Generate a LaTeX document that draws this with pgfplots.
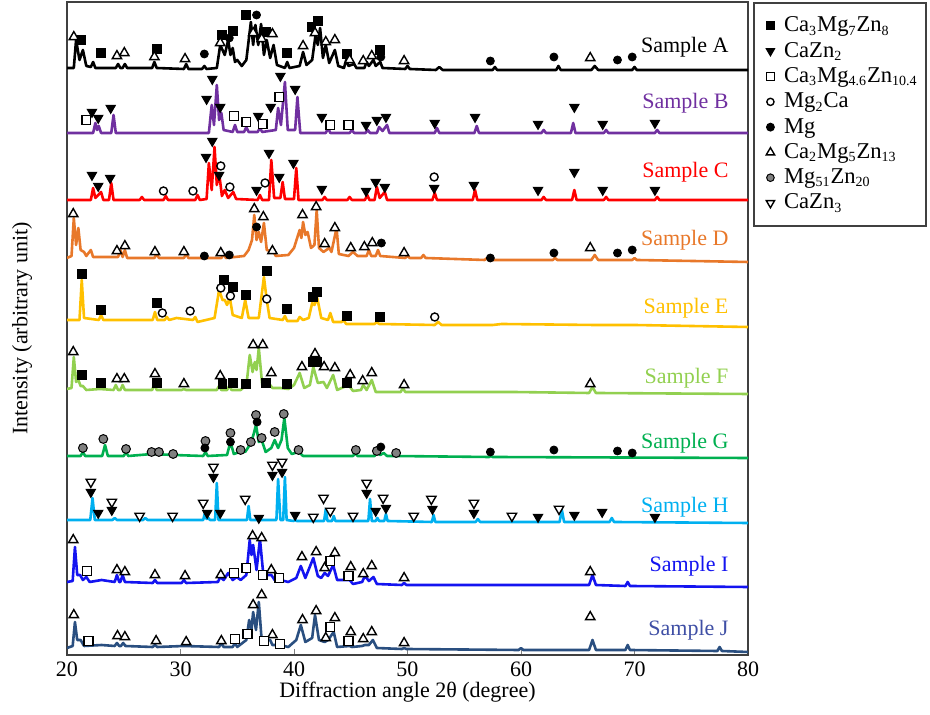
\documentclass[border=0pt]{standalone}
\usepackage{fontspec}
\setmainfont{Liberation Serif}
\usepackage{pgfplots}
\pgfplotsset{compat=1.18}
\newcommand{\sub}[1]{\textsubscript{\fontsize{7pt}{7pt}\selectfont #1}}
\definecolor{cB}{HTML}{7030A0}
\definecolor{cC}{HTML}{FF0000}
\definecolor{cD}{HTML}{E8782A}
\definecolor{cE}{HTML}{FFC000}
\definecolor{cF}{HTML}{92D050}
\definecolor{cG}{HTML}{00B050}
\definecolor{cH}{HTML}{00B0F0}
\definecolor{cI}{HTML}{1414F0}
\definecolor{cJ}{HTML}{2A4F80}
\definecolor{cJl}{HTML}{3F4FA5}
\pgfplotsset{
 sqf/.style={only marks, mark=square*, mark size=2.2pt, mark options={fill=black, draw=black, line width=0.5pt}},
 tdf/.style={only marks, mark=triangle*, mark size=2.7pt, mark options={rotate=180, fill=black, draw=black, line width=0.5pt}},
 sqo/.style={only marks, mark=square*, mark size=2.2pt, mark options={fill=white, draw=black, line width=0.7pt}},
 cio/.style={only marks, mark=*, mark size=2pt, mark options={fill=white, draw=black, line width=0.7pt}},
 cif/.style={only marks, mark=*, mark size=2pt, mark options={fill=black, draw=black}},
 tuo/.style={only marks, mark=triangle*, mark size=2.7pt, mark options={fill=white, draw=black, line width=0.7pt}},
 cig/.style={only marks, mark=*, mark size=2.2pt, mark options={fill=gray, draw=black, line width=0.5pt}},
 tdo/.style={only marks, mark=triangle*, mark size=2.7pt, mark options={rotate=180, fill=white, draw=black, line width=0.7pt}},
 xrd/.style={no marks, line width=1.3pt, line join=round, forget plot},
 limg/.style={legend image code/.code={\path[draw=none, fill=none] (0cm,-0.1cm) rectangle (0.39cm,0.1cm); \draw[##1, only marks] plot coordinates {(0.22cm,0cm)};}},
}
\begin{document}
\begin{tikzpicture}[font=\fontsize{11pt}{13pt}\selectfont]
\begin{axis}[name=ax,
 scale only axis, width=340.5pt, height=326.5pt,
 xmin=20, xmax=80, ymin=-655, ymax=-2,
 y filter/.expression={-y},
 xtick={20,30,...,80}, ytick=\empty,
 tick align=inside, xtick pos=bottom, major tick length=3pt,
 axis line style={black!75, line width=0.8pt},
 /pgf/number format/assume math mode=true,
 xlabel={Diffraction angle 2θ (degree)},
 ylabel={Intensity (arbitrary unit)},
 xlabel style={at={(axis description cs:0.5,-0.0567)}, anchor=center},
 ylabel style={at={(axis description cs:-0.066,0.5)}, anchor=center},
 legend style={at={(1.0075,1)}, anchor=north west, draw=black!75, line width=0.8pt, row sep=-0.3pt, inner xsep=2pt, inner ysep=5pt, nodes={inner xsep=2pt}, font=\fontsize{11.3pt}{13pt}\selectfont},
 legend cell align=left,
]
\addlegendimage{sqf, mark size=1.9pt, limg}\addlegendentry{Ca\sub{3}Mg\sub{7}Zn\sub{8}}
\addlegendimage{tdf, mark size=2.4pt, limg}\addlegendentry{CaZn\sub{2}}
\addlegendimage{sqo, mark size=1.9pt, limg}\addlegendentry{Ca\sub{3}Mg\sub{4.6}Zn\sub{10.4}}
\addlegendimage{cio, mark size=1.8pt, limg}\addlegendentry{Mg\sub{2}Ca}
\addlegendimage{cif, mark size=1.8pt, limg}\addlegendentry{Mg}
\addlegendimage{tuo, mark size=2.4pt, limg}\addlegendentry{Ca\sub{2}Mg\sub{5}Zn\sub{13}}
\addlegendimage{cig, mark size=1.9pt, limg}\addlegendentry{Mg\sub{51}Zn\sub{20}}
\addlegendimage{tdo, mark size=2.4pt, limg}\addlegendentry{CaZn\sub{3}}

% ---------- Sample A ----------
\addplot[xrd, black] coordinates {(20,68) (20.6,68) (20.8,40) (21.1,60) (21.4,50) (21.7,66) (22.1,67) (22.3,62) (22.5,68) (24.3,68) (24.5,64) (24.7,68) (24.9,68) (25.1,64) (25.3,68) (27.5,68) (27.7,62) (27.9,68) (30.3,69) (30.5,64) (30.7,69) (31.9,69) (32.1,66) (32.3,69) (33.2,68) (33.5,45) (33.9,55) (34.2,40) (34.4,55) (34.6,48) (34.8,62) (35.0,60) (35.4,66) (35.8,60) (36.2,22) (36.4,45) (36.6,25) (36.85,45) (37.1,24) (37.35,55) (37.6,40) (37.9,58) (38.2,45) (38.5,65) (39.2,68) (39.4,62) (39.6,68) (40.5,66) (40.8,52) (41.1,65) (41.6,60) (41.9,35) (42.1,45) (42.3,28) (42.55,58) (42.8,45) (43.1,63) (43.6,50) (43.9,66) (44.4,68) (44.6,60) (44.8,66) (45.3,64) (45.5,68) (46.2,68) (46.4,62) (46.6,66) (47.0,60) (47.2,66) (47.6,62) (47.8,68) (49.8,69) (50,66) (50.2,69) (52.5,70) (52.8,67) (53.1,70) (57.5,70) (57.7,67) (57.9,70) (63.1,70) (63.3,66) (63.5,70) (66.2,70) (66.5,66) (66.8,70) (69.8,70) (70,67) (70.2,70) (80,70)};
\addplot[sqf, forget plot] coordinates {(21.2,40) (23.0,53) (27.9,49) (33.65,35) (34.6,31) (35.8,15) (37.5,32) (39.35,53) (41.55,27) (42.1,21) (44.65,54) (47.6,50)};
\addplot[tuo, forget plot] coordinates {(20.6,37) (24.4,56) (25.05,53) (27.7,57) (30.4,59) (33.5,43) (36.4,33) (37.15,39) (38.1,34) (40.8,46) (41.85,33) (42.8,42) (43.6,40) (44.9,60) (46.1,61) (46.85,56) (49.7,61) (66.1,58)};
\addplot[cif, forget plot] coordinates {(32.1,54) (34.3,38) (36.7,15) (47.65,57) (57.3,61) (62.9,57) (68.5,60) (69.8,57)};

% ---------- Sample B ----------
\addplot[xrd, cB] coordinates {(20,133) (22.3,133) (22.5,123) (22.65,130) (22.8,126) (23.0,133) (23.9,133) (24.1,115) (24.3,133) (32.5,133) (32.75,105) (32.95,125) (33.2,85) (33.4,120) (33.6,113) (33.8,130) (34.6,132) (34.8,125) (35.0,132) (35.6,132) (35.8,127) (36.0,132) (36.8,132) (37.0,128) (37.2,132) (38.4,130) (38.6,108) (38.85,125) (39.2,82) (39.45,130) (40.1,130) (40.3,97) (40.55,133) (42.8,133) (43,128) (43.2,133) (44.9,133) (45.1,130) (45.3,133) (46.3,133) (46.5,130) (46.7,133) (47.3,133) (47.5,127) (47.8,131) (48.2,125) (48.4,133) (52.4,133) (52.6,128) (52.8,133) (55.9,133) (56.1,126) (56.3,133) (61.8,133) (62,130) (62.2,133) (64.4,133) (64.6,123) (64.8,133) (67.3,133) (67.5,130) (67.7,133) (71.8,133) (72,130) (72.2,133) (80,133)};
\addplot[tdf, forget plot] coordinates {(22.2,112) (22.75,118) (23.85,108) (32.3,99) (32.8,79) (33.5,107) (36.85,116) (37.95,107) (38.8,76) (40.1,89) (42.45,117) (46.35,125) (47.3,120) (48.1,117) (52.4,123) (55.95,117) (61.5,124) (64.7,107) (67.2,124) (71.8,123)};
\addplot[sqo, forget plot] coordinates {(21.7,120) (34.7,116) (35.8,122) (37.25,124) (38.7,97) (43.2,125) (44.8,125)};

% ---------- Sample C ----------
\addplot[xrd, cC] coordinates {(20,200) (22.1,200) (22.3,188) (22.5,198) (23.0,192) (23.2,200) (23.7,200) (23.9,183) (24.1,200) (26.4,200) (26.6,197) (26.8,200) (28.5,200) (28.7,196) (28.9,200) (31.3,200) (31.5,195) (31.7,200) (32.3,199) (32.5,163) (32.75,190) (33.0,147) (33.2,185) (33.4,173) (33.65,196) (33.9,190) (34.2,198) (34.65,192) (34.9,199) (36.8,200) (37.0,195) (37.2,200) (37.8,200) (38.0,160) (38.25,198) (38.8,198) (39.0,182) (39.2,199) (40.0,199) (40.2,168) (40.4,200) (42.5,200) (42.7,197) (42.9,200) (44.7,200) (44.9,197) (45.1,200) (46.25,200) (46.45,195) (46.65,200) (47.1,200) (47.3,187) (47.55,198) (48.0,192) (48.2,200) (52.2,200) (52.4,193) (52.6,200) (55.75,200) (55.95,190) (56.15,200) (61.8,200) (62,197) (62.2,200) (64.5,200) (64.7,190) (64.9,200) (67.3,200) (67.5,197) (67.7,200) (71.8,200) (72,197) (72.2,200) (80,200)};
\addplot[tdf, forget plot] coordinates {(22.2,175) (22.75,186) (23.8,178) (32.25,157) (32.8,141) (33.4,175) (36.7,190) (37.8,153) (38.7,177) (39.95,163) (42.45,189) (46.35,191) (47.2,182) (48.0,187) (52.35,188) (55.85,185) (61.5,190) (64.7,172) (67.2,190) (71.8,190)};
\addplot[cio, forget plot] coordinates {(28.5,191) (31.1,191) (33.55,166) (34.35,187) (37.45,183) (52.35,177)};

% ---------- Sample D ----------
\addplot[xrd, cD] coordinates {(20,258) (20.4,256) (20.6,218) (20.8,245) (21.0,228) (21.2,250) (21.5,252) (21.7,256) (22.1,250) (22.3,257) (24.5,257) (24.7,250) (24.9,257) (25.1,250) (25.3,258) (27.7,258) (27.9,254) (28.1,258) (30.3,258) (30.5,254) (30.7,258) (33.6,258) (33.8,254) (34.0,258) (35.6,256) (36.0,250) (36.3,240) (36.5,215) (36.7,240) (36.9,232) (37.1,242) (37.35,223) (37.6,250) (38.2,252) (38.4,256) (39.5,255) (40.0,248) (40.5,230) (40.65,238) (40.8,222) (41.0,235) (41.2,232) (41.5,248) (41.8,245) (42.0,210) (42.2,248) (42.6,252) (43.1,248) (43.3,252) (43.75,228) (43.95,254) (44.8,256) (45.2,252) (45.6,256) (46.4,256) (46.6,250) (46.8,256) (47.2,256) (47.4,250) (47.6,256) (49.8,258) (50.0,256) (50.2,258) (51.2,258) (51.4,255) (51.6,258) (56.8,260) (57,258) (57.2,260) (62.8,260) (63,258) (63.2,260) (66.2,260) (66.5,255) (66.8,260) (69.8,260) (70,258) (70.2,260) (80,262)};
\addplot[tuo, forget plot] coordinates {(20.55,214) (24.4,251) (25.1,246) (27.75,252) (30.3,252) (33.55,253) (36.5,209) (37.3,217) (38.1,251) (40.75,215) (41.95,207) (42.7,244) (43.6,228) (45.0,248) (46.2,247) (46.9,243) (49.7,253) (66.1,248)};
\addplot[cif, forget plot] coordinates {(32.1,256) (34.3,255) (36.7,227) (47.7,243) (57.3,258) (62.9,253) (68.5,253) (69.8,250)};

% ---------- Sample E ----------
\addplot[xrd, cE] coordinates {(20,320) (21.1,320) (21.3,280) (21.5,318) (22.8,320) (23.0,315) (23.2,320) (27.55,320) (27.75,312) (27.95,320) (28.6,320) (28.8,317) (29.0,320) (29.65,318) (31.1,320) (31.3,317) (31.5,322) (33.0,318) (33.4,290) (33.7,300) (33.9,300) (34.1,305) (34.35,298) (34.6,315) (35.4,318) (35.7,300) (36.0,318) (36.9,318) (37.35,277) (37.6,300) (37.85,318) (39.0,320) (39.2,316) (39.4,321) (40.3,321) (40.5,317) (40.8,320) (41.3,318) (41.6,303) (41.8,305) (42.05,298) (42.4,318) (43.0,320) (43.2,313) (43.45,322) (44.2,322) (44.35,320) (44.6,324) (47.1,324) (47.3,322) (47.5,324) (52.4,325) (52.7,322) (53.0,325) (57.5,325) (58.3,324) (66.5,325) (70,325) (80,327)};
\addplot[sqf, forget plot] coordinates {(21.3,274) (23.0,310) (27.9,303) (33.8,280) (34.6,287) (35.8,295) (37.6,271) (39.35,309) (41.65,297) (42.05,292) (44.65,316) (47.6,317)};
\addplot[cio, forget plot] coordinates {(28.4,313) (30.85,311) (33.55,288) (34.4,296) (37.6,299) (52.4,317)};

% ---------- Sample F ----------
\addplot[xrd, cF] coordinates {(20,389) (20.4,388) (20.6,357) (20.8,382) (21.0,380) (21.2,386) (21.4,386) (21.7,390) (22.9,389) (24.1,390) (24.3,385) (24.5,390) (24.7,390) (24.9,385) (25.1,390) (27.5,390) (27.7,384) (27.9,390) (30.1,390) (30.3,389) (30.5,390) (33.2,390) (33.4,386) (33.6,390) (34.1,390) (34.3,386) (34.5,390) (35.3,390) (35.5,388) (35.8,386) (36.1,355) (36.35,372) (36.55,362) (36.7,370) (36.9,348) (37.2,385) (37.9,385) (38.1,388) (38.8,388) (39.5,389) (40.0,385) (40.5,373) (40.9,388) (41.4,385) (41.7,367) (42.1,383) (42.6,382) (42.9,388) (43.45,375) (43.8,390) (44.8,385) (45.2,391) (45.9,390) (46.1,385) (46.4,390) (46.85,380) (47.2,392) (49.4,392) (49.6,388) (49.8,392) (56.4,392) (59.3,392) (66.0,393) (66.3,387) (66.6,393) (80,394)};
\addplot[tuo, forget plot] coordinates {(20.55,352) (24.4,379) (25.05,379) (27.75,374) (30.3,384) (33.5,376) (36.4,345) (37.25,345) (38.0,373) (40.7,367) (41.85,354) (42.65,367) (43.6,368) (44.95,375) (46.05,381) (46.85,373) (49.7,385) (66.1,384)};
\addplot[sqf, forget plot] coordinates {(21.3,375) (23.0,383) (27.9,383) (33.7,384) (34.6,383) (35.8,384) (37.55,383) (39.35,384) (41.65,362) (42.05,362) (44.7,383)};

% ---------- Sample G ----------
\addplot[xrd, cG] coordinates {(20,456) (21.2,456) (21.4,452) (21.6,456) (23.1,456) (23.35,445) (23.6,456) (25.0,456) (25.2,452) (25.4,456) (27.5,454) (29.4,455) (32.0,456) (32.2,452) (32.4,456) (34.1,455) (34.4,442) (34.7,454) (35.2,452) (35.4,450) (35.7,452) (36.1,445) (36.4,436) (36.65,425) (36.9,442) (37.15,440) (37.5,452) (38.0,448) (38.3,440) (38.6,448) (38.9,440) (39.15,418) (39.45,448) (39.8,454) (40.4,452) (40.8,456) (45.2,456) (45.4,453) (45.6,456) (47.1,456) (47.3,453) (47.6,455) (47.9,453) (48.2,456) (48.9,456) (57.2,457) (57.35,456) (57.5,457) (80,458)};
\addplot[cig, forget plot] coordinates {(21.4,448) (23.2,439) (25.2,449) (27.45,452) (28.1,452) (29.35,454) (32.2,441) (34.4,433) (35.3,450) (36.2,442) (36.65,415) (37.15,438) (38.3,432) (39.1,414) (40.4,450) (45.45,450) (47.3,451) (49.0,453)};
\addplot[cif, forget plot] coordinates {(32.15,448) (34.4,442) (36.75,422) (47.65,447) (57.3,452) (62.9,450) (68.5,451) (69.8,453)};

% ---------- Sample H ----------
\addplot[xrd, cH] coordinates {(20,520) (22.05,520) (22.25,498) (22.45,520) (24.0,520) (24.2,518) (24.4,520) (26.7,520) (26.9,518) (27.1,520) (32.0,520) (32.15,513) (32.3,519) (32.45,518) (32.6,520) (33.05,520) (33.2,483) (33.35,520) (35.85,520) (36.0,506) (36.15,520) (38.45,520) (38.6,479) (38.8,520) (39.05,520) (39.2,477) (39.35,520) (39.95,521) (40.1,520) (40.25,521) (42.65,521) (42.8,509) (42.95,521) (43.35,521) (43.5,516) (43.65,521) (46.55,521) (46.7,499) (46.85,521) (47.2,521) (47.35,518) (47.5,521) (47.95,521) (48.1,514) (48.25,521) (52.15,522) (52.3,515) (52.45,522) (56.0,522) (56.2,519) (56.4,522) (63.4,522) (63.6,510) (63.8,522) (67.8,522) (68.0,518) (68.2,522) (80,523)};
\addplot[tdo, forget plot] coordinates {(22.1,482) (23.95,502) (26.4,516) (29.3,516) (32.0,503) (32.9,467) (35.7,499) (38.1,465) (38.95,462) (41.7,517) (42.6,498) (43.2,511) (45.2,516) (46.4,483) (47.85,498) (50.55,516) (52.1,499) (55.85,503) (59.2,516) (63.35,509)};
\addplot[tdf, forget plot] coordinates {(22.1,492) (22.75,513) (23.95,510) (32.35,513) (32.9,477) (33.5,513) (36.9,518) (38.1,475) (38.95,472) (40.1,515) (46.4,493) (47.2,511) (48.1,508) (52.2,509) (55.85,513) (61.5,517) (64.7,515) (67.15,512) (71.8,517)};

% ---------- Sample I ----------
\addplot[xrd, cI] coordinates {(20,582) (20.5,581) (20.7,547) (20.9,575) (21.15,575) (21.4,580) (21.7,577) (22.0,582) (23.05,580) (24.2,582) (24.4,575) (24.6,582) (24.7,582) (24.9,575) (25.1,582) (27.55,583) (27.75,580) (27.95,583) (30.1,583) (30.3,580) (30.5,583) (33.3,582) (33.5,577) (33.8,580) (34.2,573) (34.6,580) (34.95,577) (35.3,580) (35.8,575) (36.1,540) (36.25,555) (36.4,545) (36.7,570) (37.0,539) (37.3,575) (38.0,575) (38.3,580) (38.8,580) (39.5,582) (40.2,578) (40.6,566) (41.0,578) (41.7,558) (42.1,576) (42.4,578) (42.7,573) (43.0,576) (43.45,565) (43.8,580) (44.9,580) (45.2,584) (46.0,582) (46.25,576) (46.6,581) (47.0,577) (47.3,584) (49.5,585) (49.7,583) (49.9,585) (56.4,585) (59.3,585) (66.0,585) (66.3,575) (66.6,585) (69.2,586) (69.4,582) (69.6,586) (80,587)};
\addplot[tuo, forget plot] coordinates {(20.55,540) (24.4,570) (25.1,572) (27.75,575) (30.4,576) (33.55,575) (36.35,536) (37.15,538) (38.0,570) (40.7,557) (41.95,552) (42.7,568) (43.6,553) (45.0,567) (46.1,574) (46.85,566) (49.7,578) (66.1,572)};
\addplot[sqo, forget plot] coordinates {(21.75,571) (34.7,573) (35.8,568) (37.25,575) (38.7,578) (43.2,561) (44.8,576)};

% ---------- Sample J ----------
\addplot[xrd, cJ] coordinates {(20,648) (20.5,646) (20.7,622) (20.9,640) (21.2,640) (21.5,646) (23.05,645) (24.2,646) (24.4,643) (24.6,646) (24.75,646) (24.95,643) (25.15,646) (27.55,647) (27.75,645) (27.95,647) (30.3,646) (33.4,647) (33.6,643) (33.8,647) (34.6,647) (34.8,643) (35.0,647) (35.8,640) (36.05,620) (36.25,630) (36.4,612) (36.65,630) (36.9,602) (37.15,640) (37.9,640) (38.1,645) (38.8,645) (39.5,647) (40.2,640) (40.6,625) (41.0,642) (41.6,638) (41.85,615) (42.2,640) (42.7,642) (43.0,640) (43.5,632) (43.8,647) (44.9,646) (45.1,647) (46.0,646) (46.25,645) (46.6,645) (46.95,640) (47.3,648) (49.5,649) (49.7,648) (49.9,649) (59.8,650) (60,648) (60.2,650) (66.0,650) (66.3,640) (66.6,650) (69.2,650) (69.4,645) (69.6,650) (77.3,651) (77.5,647) (77.7,651) (80,652)};
\addplot[tuo, forget plot] coordinates {(20.6,615) (24.45,636) (25.1,637) (27.85,641) (30.5,642) (33.6,641) (36.4,605) (37.15,595) (38.1,635) (40.75,620) (41.95,611) (42.8,638) (43.6,618) (45.0,632) (46.1,639) (46.85,632) (49.7,643) (66.1,617)};
\addplot[sqo, forget plot] coordinates {(21.9,641) (34.8,639) (35.9,634) (37.35,641) (38.75,644) (43.2,627) (44.8,641)};

% ---------- labels ----------
\node[anchor=east, text=black] at (axis cs:78.9,-47) {Sample A};
\node[anchor=east, text=cB] at (axis cs:78.9,-103) {Sample B};
\node[anchor=east, text=cC] at (axis cs:78.9,-172) {Sample C};
\node[anchor=east, text=cD] at (axis cs:78.9,-240) {Sample D};
\node[anchor=east, text=cE] at (axis cs:78.9,-308) {Sample E};
\node[anchor=east, text=cF] at (axis cs:78.9,-378) {Sample F};
\node[anchor=east, text=cG] at (axis cs:78.9,-443) {Sample G};
\node[anchor=east, text=cH] at (axis cs:78.9,-507) {Sample H};
\node[anchor=east, text=cI] at (axis cs:78.9,-566) {Sample I};
\node[anchor=east, text=cJl] at (axis cs:78.9,-630) {Sample J};
\end{axis}
\pgfresetboundingbox
\path[use as bounding box] ([xshift=-33.5pt,yshift=-30pt]ax.south west) rectangle ([xshift=91pt,yshift=1pt]ax.north east);
\end{tikzpicture}
\end{document}
